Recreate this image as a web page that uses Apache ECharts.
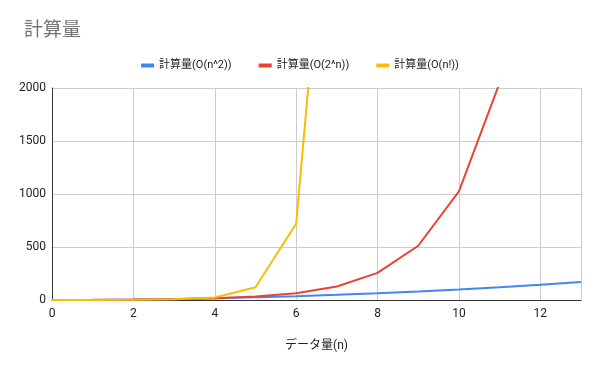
<!DOCTYPE html>
<html><head><meta charset="utf-8">
<script src="https://cdn.jsdelivr.net/npm/echarts@6/dist/echarts.min.js"></script>
<style>html,body{margin:0;padding:0;background:#fff}#c{width:600px;height:371px}</style>
</head><body><div id="c"></div>
<script>
const nValues = [0,1,2,3,4,5,6,7,8,9,10,11,12,13];
const squareValues = [0,1,4,9,16,25,36,49,64,81,100,121,144,169];
const powValues = [1,2,4,8,16,32,64,128,256,512,1024,2048,4096,8192];
const factValues = [1,1,2,6,24,120,720,5040,40320,362880,3628800,39916800,479001600,6227020800];
const seriesNames = ['計算量(O(n^2))','計算量(O(2^n))','計算量(O(n!))'];
const colors = ['#4285f4','#ea4335','#fbbc04'];
const font = 'Roboto, "Noto Sans CJK JP", sans-serif';
const pairs = v => nValues.map((n,i)=>[n,v[i]]);
const chart = echarts.init(document.getElementById('c'));
chart.setOption({
  animation:false,
  title:{text:'計算量',left:19,top:17,textStyle:{fontSize:19,fontWeight:'normal',color:'#757575',fontFamily:font}},
  legend:{top:55,left:'center',itemWidth:13,itemHeight:4,itemGap:27,icon:'rect',
    textStyle:{fontSize:11,color:'#222',fontFamily:font},data:seriesNames},
  grid:{left:52,right:19,top:88,bottom:71},
  xAxis:{type:'value',min:0,max:13,interval:2,
    name:'データ量(n)',nameLocation:'middle',nameGap:40,
    nameTextStyle:{fontSize:12,color:'#222',fontFamily:font},
    axisLine:{lineStyle:{color:'#333'}},axisTick:{show:false},
    axisLabel:{color:'#222',fontSize:12,fontFamily:font,margin:8,showMaxLabel:false},
    splitLine:{show:true,lineStyle:{color:'#cccccc'}}},
  yAxis:{type:'value',min:0,max:2000,interval:500,
    axisLine:{show:true,lineStyle:{color:'#333'}},axisTick:{show:false},
    axisLabel:{color:'#222',fontSize:12,fontFamily:font,margin:6,formatter:v=>String(v)},
    splitLine:{lineStyle:{color:'#cccccc'}}},
  series:[
    {name:seriesNames[0],type:'line',data:pairs(squareValues),symbol:'none',lineStyle:{width:2,color:colors[0]},itemStyle:{color:colors[0]},clip:true},
    {name:seriesNames[1],type:'line',data:pairs(powValues),symbol:'none',lineStyle:{width:2,color:colors[1]},itemStyle:{color:colors[1]},clip:true},
    {name:seriesNames[2],type:'line',data:pairs(factValues),symbol:'none',lineStyle:{width:2,color:colors[2]},itemStyle:{color:colors[2]},clip:true}
  ]
});
</script></body></html>
